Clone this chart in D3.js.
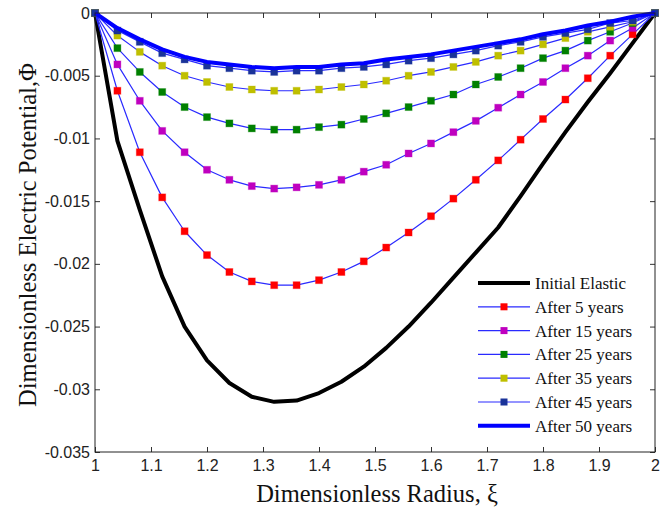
<!DOCTYPE html>
<html>
<head>
<meta charset="utf-8">
<script src="https://cdn.jsdelivr.net/npm/d3@7"></script>
<style>
  html, body { margin: 0; padding: 0; background: #fff; }
  svg { display: block; }
  .tick text { font-family: "Liberation Sans", Arial, sans-serif; font-size: 16px; fill: #222; }
</style>
</head>
<body>
<div id="chart"></div>
<script>
// radius sample points
const xi = [1.00, 1.04, 1.08, 1.12, 1.16, 1.20, 1.24, 1.28, 1.32, 1.36, 1.40, 1.44, 1.48,
            1.52, 1.56, 1.60, 1.64, 1.68, 1.72, 1.76, 1.80, 1.84, 1.88, 1.92, 1.96, 2.00];

const initialElastic = [0, -0.0102, -0.0157, -0.0210, -0.0250, -0.0277, -0.0295, -0.0306, -0.0310, -0.0309,
  -0.0303, -0.0294, -0.0282, -0.0267, -0.0250, -0.0231, -0.0211, -0.0191, -0.0171, -0.0146,
  -0.0120, -0.0095, -0.0071, -0.0048, -0.0024, 0];
const after5 = [0, -0.0062, -0.0111, -0.0147, -0.0174, -0.0193, -0.02065, -0.0214, -0.0217, -0.0217,
  -0.0213, -0.02065, -0.0198, -0.0187, -0.0175, -0.0162, -0.0148, -0.0133, -0.01175, -0.0101,
  -0.00845, -0.0069, -0.0052, -0.0034, -0.0017, 0];
const after15 = [0, -0.0041, -0.0070, -0.0094, -0.0111, -0.0125, -0.0133, -0.0138, -0.0140, -0.0139,
  -0.0137, -0.0133, -0.01265, -0.0121, -0.0112, -0.0104, -0.0095, -0.0086, -0.00755, -0.0065,
  -0.0055, -0.0044, -0.0034, -0.0022, -0.0012, 0];
const after25 = [0, -0.0028, -0.0047, -0.0063, -0.0075, -0.0083, -0.0088, -0.0092, -0.0093, -0.0093,
  -0.0091, -0.0089, -0.00845, -0.0080, -0.0075, -0.0070, -0.0065, -0.0057, -0.0051, -0.0044,
  -0.0036, -0.0030, -0.0022, -0.0015, -0.0008, 0];
const after35 = [0, -0.0018, -0.0031, -0.0042, -0.0050, -0.0055, -0.0059, -0.0061, -0.0062, -0.0062,
  -0.0061, -0.0059, -0.0057, -0.0054, -0.0050, -0.0047, -0.0043, -0.0039, -0.0034, -0.0030,
  -0.0025, -0.0020, -0.0015, -0.0011, -0.0007, 0];
const after45 = [0, -0.0014, -0.0023, -0.0032, -0.0037, -0.0042, -0.0044, -0.0046, -0.0047, -0.0046,
  -0.0046, -0.0044, -0.0043, -0.0041, -0.0038, -0.0036, -0.0033, -0.0030, -0.0026, -0.0023,
  -0.0019, -0.0016, -0.0013, -0.0008, -0.0006, 0];
const after50 = [0, -0.0012, -0.0021, -0.0029, -0.0035, -0.0039, -0.0041, -0.0043, -0.0044, -0.0043,
  -0.0043, -0.0041, -0.0040, -0.0037, -0.0035, -0.0033, -0.0030, -0.0027, -0.0024, -0.0021,
  -0.0017, -0.0014, -0.0010, -0.0007, -0.0003, 0];

const xTicks = [1, 1.1, 1.2, 1.3, 1.4, 1.5, 1.6, 1.7, 1.8, 1.9, 2];
const yTicks = [0, -0.005, -0.01, -0.015, -0.02, -0.025, -0.03, -0.035];

const series = [
  { name: "Initial Elastic", values: initialElastic, line: "#000", width: 4, marker: null },
  { name: "After 5 years", values: after5, line: "#2a2aff", width: 1.2, marker: "#ff0000" },
  { name: "After 15 years", values: after15, line: "#2a2aff", width: 1.2, marker: "#bf00bf" },
  { name: "After 25 years", values: after25, line: "#2a2aff", width: 1.2, marker: "#008000" },
  { name: "After 35 years", values: after35, line: "#2a2aff", width: 1.2, marker: "#bfbf00" },
  { name: "After 45 years", values: after45, line: "#2a2aff", width: 1.2, marker: "#1a3399" },
  { name: "After 50 years", values: after50, line: "#0000ff", width: 4, marker: null }
];

const W = 672, H = 509;
const margin = { top: 13, right: 17, bottom: 57, left: 95 };
const width = W - margin.left - margin.right;
const height = H - margin.top - margin.bottom;

const svg = d3.select("#chart").append("svg")
  .attr("width", W).attr("height", H);

const g = svg.append("g").attr("transform", `translate(${margin.left},${margin.top})`);

const x = d3.scaleLinear().domain([1, 2]).range([0, width]);
const y = d3.scaleLinear().domain([-0.035, 0]).range([height, 0]);

const fmtY = d => d === 0 ? "0" : String(+d.toFixed(3));

// axes with inward ticks on all four sides
g.append("g").attr("transform", `translate(0,${height})`)
  .call(d3.axisBottom(x).tickValues(xTicks).tickSize(-5).tickPadding(8).tickFormat(d => String(+d.toFixed(1))))
  .call(a => a.select(".domain").remove());
g.append("g")
  .call(d3.axisTop(x).tickValues(xTicks).tickSize(-5).tickFormat(""))
  .call(a => a.select(".domain").remove());
g.append("g")
  .call(d3.axisLeft(y).tickValues(yTicks).tickSize(-5).tickPadding(5).tickFormat(fmtY))
  .call(a => a.select(".domain").remove());
g.append("g").attr("transform", `translate(${width},0)`)
  .call(d3.axisRight(y).tickValues(yTicks).tickSize(-5).tickFormat(""))
  .call(a => a.select(".domain").remove());
g.selectAll(".tick line").attr("stroke", "#333");

const plot = g.append("g");

const line = d3.line()
  .x((d, i) => x(xi[i]))
  .y(d => y(d));

series.forEach(s => {
  plot.append("path")
    .datum(s.values)
    .attr("fill", "none")
    .attr("stroke", s.line)
    .attr("stroke-width", s.width)
    .attr("stroke-linejoin", "round")
    .attr("d", line);

  if (s.marker) {
    plot.selectAll(null)
      .data(s.values)
      .enter()
      .append("rect")
      .attr("x", (d, i) => x(xi[i]) - 3.5)
      .attr("y", d => y(d) - 3.5)
      .attr("width", 7)
      .attr("height", 7)
      .attr("fill", s.marker)
      .attr("stroke", s.marker)
      .attr("stroke-opacity", 0.3)
      .attr("stroke-width", 1);
  }
});

// frame
g.append("rect")
  .attr("width", width).attr("height", height)
  .attr("fill", "none").attr("stroke", "#222").attr("stroke-width", 1);

// legend
const legend = g.append("g").attr("transform", `translate(${478 - margin.left},${283 - margin.top})`);
series.forEach((s, i) => {
  const row = legend.append("g").attr("transform", `translate(0,${i * 23.8})`);
  row.append("line")
    .attr("x1", 0).attr("x2", 52)
    .attr("stroke", s.line)
    .attr("stroke-width", s.width);
  if (s.marker) {
    row.append("rect")
      .attr("x", 26 - 3.5).attr("y", -3.5)
      .attr("width", 7).attr("height", 7)
      .attr("fill", s.marker);
  }
  row.append("text")
    .attr("x", 57).attr("y", 0).attr("dy", "0.35em")
    .attr("font-family", "'Liberation Serif', 'Times New Roman', serif")
    .attr("font-size", 17)
    .attr("fill", "#111")
    .text(s.name);
});

// axis titles
svg.append("text")
  .attr("x", 377).attr("y", 502)
  .attr("text-anchor", "middle")
  .attr("font-family", "'Liberation Serif', 'Times New Roman', serif")
  .attr("font-size", 24.5)
  .attr("fill", "#111")
  .text("Dimensionless Radius, ξ");

svg.append("text")
  .attr("transform", `translate(36,${235}) rotate(-90)`)
  .attr("text-anchor", "middle")
  .attr("font-family", "'Liberation Serif', 'Times New Roman', serif")
  .attr("font-size", 24.5)
  .attr("fill", "#111")
  .text("Dimensionless Electric Potential,Φ");
</script>
</body>
</html>
